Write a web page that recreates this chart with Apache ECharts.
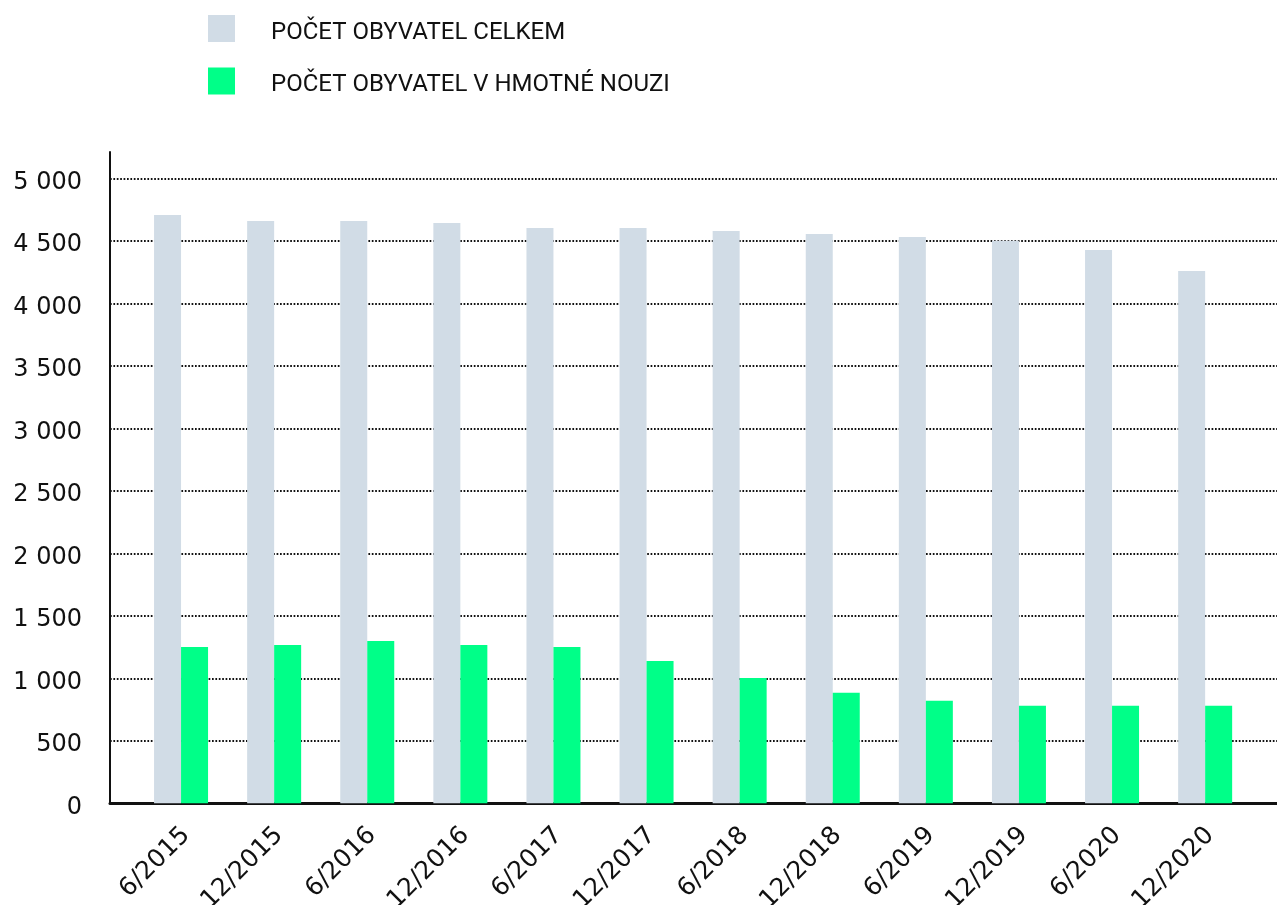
<!DOCTYPE html>
<html>
<head>
<meta charset="utf-8">
<script src="https://cdn.jsdelivr.net/npm/echarts@6/dist/echarts.min.js"></script>
<style>
  html, body { margin: 0; padding: 0; background: #fff; }
  #chart { width: 1277px; height: 905px; }
</style>
</head>
<body>
<div id="chart"></div>
<script>
  // data
  var categories = ['6/2015', '12/2015', '6/2016', '12/2016', '6/2017', '12/2017',
                    '6/2018', '12/2018', '6/2019', '12/2019', '6/2020', '12/2020'];
  var celkem = [4710, 4662, 4662, 4646, 4606, 4606, 4582, 4558, 4534, 4504, 4430, 4262];
  var hmotnaNouze = [1252, 1268, 1300, 1268, 1252, 1140, 1004, 884, 820, 780, 780, 780];
  var seriesNames = ['POČET OBYVATEL CELKEM', 'POČET OBYVATEL V HMOTNÉ NOUZI'];
  var yTicks = { min: 0, max: 5000, step: 500 };

  var grayColor = '#d1dce6';
  var greenColor = '#00ff88';

  function fmt(v) {
    return String(v).replace(/\B(?=(\d{3})+(?!\d))/g, ' ');
  }

  var chart = echarts.init(document.getElementById('chart'));

  var option = {
    animation: false,
    backgroundColor: '#fff',
    legend: {
      orient: 'vertical',
      left: 208,
      top: 15,
      padding: 0,
      itemWidth: 27,
      itemHeight: 27,
      itemGap: 23,
      icon: 'rect',
      formatter: '{t|{name}}',
      textStyle: {
        color: '#111',
        rich: {
          t: { fontFamily: 'Roboto, sans-serif', fontSize: 24, color: '#111', padding: [8, 0, 0, 31] }
        }
      },
      data: seriesNames
    },
    grid: [
      // frame: gridlines, x axis line
      { left: 110, right: 0, top: 178.7, bottom: 101.7, outerBoundsMode: 'none' },
      // bars
      { left: 134.5, right: 25.3, top: 178.7, bottom: 101.7, outerBoundsMode: 'none' },
      // taller y axis line
      { left: 110, right: 0, top: 152, bottom: 101.7, outerBoundsMode: 'none' },
      // category labels (sit a bit right of the bars)
      { left: 139.5, right: 20.3, top: 178.7, bottom: 101.7, outerBoundsMode: 'none' },
      // y labels (sit a little below their gridlines)
      { left: 110, right: 0, top: 182.7, bottom: 97.7, outerBoundsMode: 'none' }
    ],
    xAxis: [
      {
        gridIndex: 0, type: 'value', min: 0, max: 1,
        axisLine: { show: true, lineStyle: { color: '#111', width: 3 } },
        axisTick: { show: false }, axisLabel: { show: false }, splitLine: { show: false }
      },
      {
        gridIndex: 1, type: 'category', data: categories,
        axisLine: { show: false }, axisTick: { show: false }, axisLabel: { show: false }
      },
      { gridIndex: 2, type: 'value', show: false, min: 0, max: 1 },
      {
        gridIndex: 3, type: 'category', data: categories,
        axisLine: { show: false }, axisTick: { show: false },
        axisLabel: {
          rotate: 45, margin: 28, fontSize: 25, color: '#111',
          fontFamily: '"DejaVu Sans", sans-serif'
        }
      },
      { gridIndex: 4, type: 'value', show: false, min: 0, max: 1 }
    ],
    yAxis: [
      {
        gridIndex: 0, type: 'value', min: yTicks.min, max: yTicks.max, interval: yTicks.step,
        axisLine: { show: false }, axisTick: { show: false }, axisLabel: { show: false },
        splitLine: { lineStyle: { color: '#111', width: 2, type: [1.7, 1.7] } }
      },
      { gridIndex: 1, type: 'value', min: yTicks.min, max: yTicks.max, show: false },
      {
        gridIndex: 2, type: 'value', min: 0, max: 1,
        axisLine: { show: true, lineStyle: { color: '#111', width: 2 } },
        axisTick: { show: false }, axisLabel: { show: false }, splitLine: { show: false }
      },
      { gridIndex: 3, type: 'value', show: false, min: 0, max: 1 },
      {
        gridIndex: 4, type: 'value', min: yTicks.min, max: yTicks.max, interval: yTicks.step,
        axisLine: { show: false }, axisTick: { show: false }, splitLine: { show: false },
        axisLabel: {
          margin: 28, fontSize: 24, color: '#111', fontFamily: '"DejaVu Sans", sans-serif',
          formatter: fmt
        }
      }
    ],
    series: [
      {
        name: seriesNames[0], type: 'bar', xAxisIndex: 1, yAxisIndex: 1,
        data: celkem, barWidth: 27, barGap: '0%',
        itemStyle: { color: grayColor }
      },
      {
        name: seriesNames[1], type: 'bar', xAxisIndex: 1, yAxisIndex: 1,
        data: hmotnaNouze, barWidth: 27, barGap: '0%',
        itemStyle: { color: greenColor }
      }
    ]
  };

  chart.setOption(option);
</script>
</body>
</html>
